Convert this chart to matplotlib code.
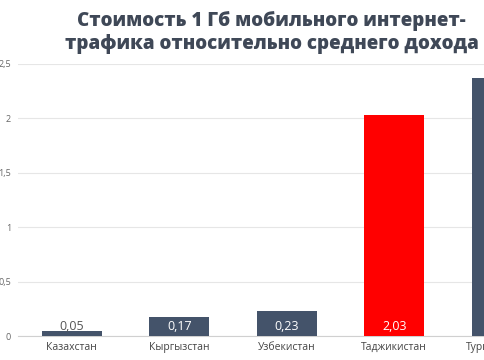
import matplotlib.pyplot as plt

plt.rcParams['font.family'] = ['Open Sans', 'DejaVu Sans']

countries = ["Казахстан", "Кыргызстан", "Узбекистан", "Таджикистан", "Туркменистан"]
values = [0.05, 0.17, 0.23, 2.03, 2.37]
labels = ["0,05", "0,17", "0,23", "2,03", "2,37"]
colors = ["#44536a", "#44536a", "#44536a", "#ff0000", "#44536a"]
yticks = [0, 0.5, 1, 1.5, 2, 2.5]
ytick_labels = ["0", "0,5", "1", "1,5", "2", "2,5"]

fig = plt.figure(figsize=(4.85, 3.6), dpi=100)
# axes run past the right edge: the reference is a cropped chart
ax = fig.add_axes([18 / 485, 24 / 360, 537.5 / 485, 272.3 / 360])

x = range(len(countries))
ax.bar(x, values, width=0.555, color=colors, zorder=3)

for i, (v, lab) in enumerate(zip(values, labels)):
    col = "#555555" if v < 0.1 else "white"
    ax.text(i, 0.085, lab, ha="center", va="center", fontsize=9,
            color=col, zorder=4, clip_on=True)

ax.set_xlim(-0.5, 4.5)
ax.set_ylim(0, 2.5)
ax.set_yticks(yticks)
ax.set_yticklabels(ytick_labels)
ax.set_xticks(list(x))
ax.set_xticklabels(countries)
ax.tick_params(axis="y", length=0, pad=5, labelsize=6.5, labelcolor="#666666")
ax.tick_params(axis="x", length=0, pad=4, labelsize=7.5, labelcolor="#444444")
ax.grid(axis="y", color="#e6e6e6", linewidth=0.8, zorder=0)
for s in ["top", "right", "left"]:
    ax.spines[s].set_visible(False)
ax.spines["bottom"].set_color("#d0d0d0")
ax.spines["bottom"].set_linewidth(0.8)

fig.text(0.56, 0.911, "Стоимость 1 Гб мобильного интернет-\nтрафика относительно среднего дохода",
         ha="center", va="center", fontsize=13.5, fontweight="heavy",
         color="#3f4857", linespacing=1.2)

fig.savefig("out.png", dpi=100)
